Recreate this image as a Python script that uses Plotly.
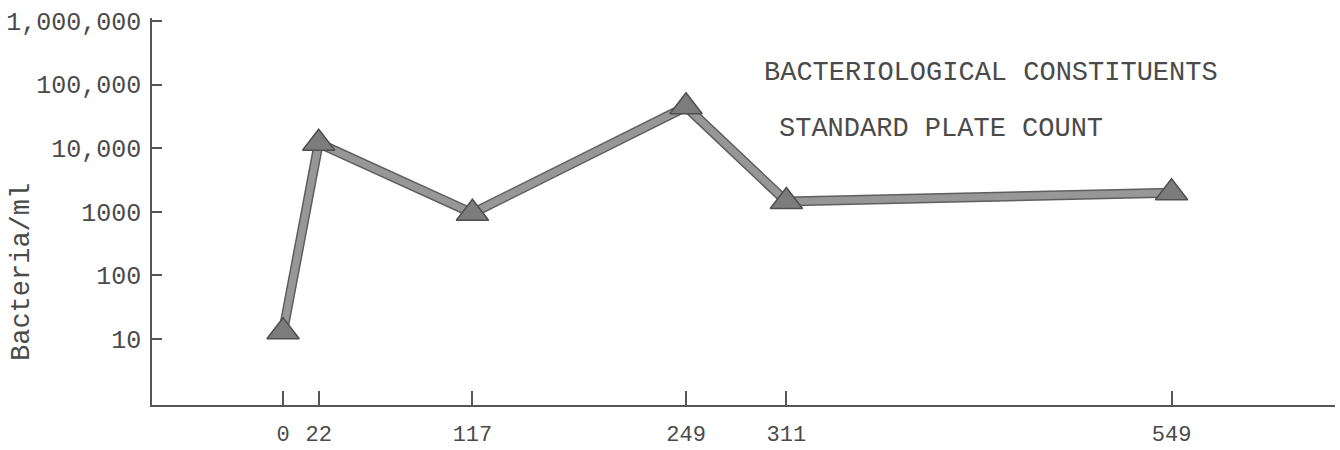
import plotly.graph_objects as go

# Sampling days and standard plate counts (bacteria per ml)
days = [0, 22, 117, 249, 311, 549]
counts = [13, 12000, 950, 45000, 1450, 2000]

x_ticks = [0, 22, 117, 249, 311, 549]
x_tick_labels = ["0", "22", "117", "249", "311", "549"]
y_ticks = [10, 100, 1000, 10000, 100000, 1000000]
y_tick_labels = ["10", "100", "1000", "10,000", "100,000", "1,000,000"]

FONT = "Liberation Mono, Courier New, monospace"
INK = "#4a4a4a"

fig = go.Figure()

# Thick pen stroke: dark edge underneath, lighter core on top
fig.add_trace(go.Scatter(
    x=days, y=counts, mode="lines",
    line=dict(color="#5e5e5e", width=10),
    hoverinfo="skip", showlegend=False,
))
fig.add_trace(go.Scatter(
    x=days, y=counts, mode="lines+markers",
    line=dict(color="#979797", width=7),
    marker=dict(symbol="triangle-up", size=28, color="#7c7c7c",
                line=dict(color="#4f4f4f", width=1.5)),
    showlegend=False,
))

L, R, T, B = 152, 5, 18, 45
W, H = 1340, 450
pw, ph = W - L - R, H - T - B


def px(xp):
    return (xp - L) / pw


def py(yp):
    return (H - B - yp) / ph


annotations = [
    dict(text="BACTERIOLOGICAL CONSTITUENTS", x=px(762), y=py(73),
         xanchor="left", yanchor="middle"),
    dict(text="STANDARD PLATE COUNT", x=px(777), y=py(129),
         xanchor="left", yanchor="middle"),
    dict(text="Bacteria/ml", x=px(22), y=py(272), textangle=-90,
         xanchor="center", yanchor="middle"),
]
for a in annotations:
    a.update(xref="paper", yref="paper", showarrow=False,
             font=dict(family=FONT, size=27, color=INK))

fig.update_layout(
    width=W, height=H,
    margin=dict(l=L, r=R, t=T, b=B),
    paper_bgcolor="white", plot_bgcolor="white",
    annotations=annotations,
    xaxis=dict(
        range=[-81, 650], automargin=False,
        tickmode="array", tickvals=x_ticks, ticktext=x_tick_labels,
        ticks="inside", ticklen=14, tickwidth=2, tickcolor="#555",
        showline=True, linecolor="#555", linewidth=1.5,
        showgrid=False, zeroline=False,
        ticklabelstandoff=8,
        tickfont=dict(family=FONT, size=22, color=INK),
    ),
    yaxis=dict(
        type="log", range=[-0.04, 6.05], automargin=False,
        tickmode="array", tickvals=y_ticks, ticktext=y_tick_labels,
        ticks="inside", ticklen=10, tickwidth=2, tickcolor="#555",
        showline=True, linecolor="#555", linewidth=1.5,
        showgrid=False, zeroline=False,
        ticklabelstandoff=4,
        tickfont=dict(family=FONT, size=25, color=INK),
    ),
)

fig.write_html("out.html")
